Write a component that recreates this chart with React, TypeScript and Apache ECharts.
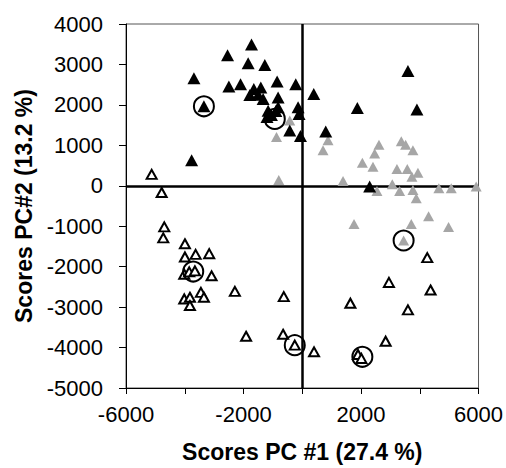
import React, { useEffect, useRef } from "react";
import * as echarts from "echarts";

const xTickLabels = ["-6000", "-2000", "2000", "6000"];

const blackPoints: number[][] = [
  [-1727, 3493], [-2543, 3230], [-1842, 3027], [-1275, 2985], [-3688, 2659],
  [-2498, 2455], [-2101, 2512], [-856, 2578], [-221, 2512], [391, 2267],
  [-1649, 2390], [-1411, 2430], [-1785, 2243], [-1500, 2250], [-1332, 2145],
  [-822, 2185], [-822, 1941], [-1162, 1858], [-1200, 1700], [-1050, 1750],
  [-900, 1850], [-142, 1941], [-109, 1777], [-425, 1368], [-61, 1230],
  [-3348, 1966], [-3766, 632], [3597, 2838], [1875, 1924], [3903, 1883],
  [799, 1343], [2294, -20],
];

const grayPoints: number[][] = [
  [877, 1123], [707, 877], [2611, 1017], [2464, 797], [2046, 569],
  [2407, 471], [3371, 1099], [3518, 1017], [3767, 877], [3223, 412],
  [3575, 412], [3937, 323], [3733, 225], [1388, 118], [3065, 37],
  [2543, -127], [3314, -127], [3767, -103], [3880, -306], [4650, -61],
  [5071, -61], [5920, -20], [-425, 1613], [-877, 1206], [-800, 140],
  [1762, -944], [3711, -944], [4300, -755], [4980, -1017], [3450, -1353],
];

const openPoints: number[][] = [
  [-5126, 282], [-4786, -167], [-4697, -1017], [-4731, -1287], [-3994, -1434],
  [-3994, -1760], [-3630, -1696], [-3168, -1679], [-4017, -2186], [-3848, -2128],
  [-3654, -2103], [-3086, -2226], [-4017, -2799], [-3824, -2757], [-3824, -2961],
  [-3450, -2635], [-3348, -2757], [-2294, -2610], [-1912, -3721], [-629, -2740],
  [1638, -2904], [2950, -2390], [4255, -1777], [4368, -2578], [3597, -3068],
  [-652, -3672], [-255, -3941], [401, -4105], [2838, -3843], [1897, -4171],
  [2012, -4269],
];

const ringPoints: number[][] = [
  [-3348, 1966], [-935, 1654], [3450, -1353], [-3712, -2120], [-255, -3941], [2046, -4228],
];

const FONT = "'Liberation Sans', Arial, sans-serif";

export default function App() {
  const ref = useRef<HTMLDivElement>(null);
  useEffect(() => {
    if (!ref.current) return;
    const chart = echarts.init(ref.current, null, { renderer: "svg" });
    chart.setOption({
      animation: false,
      backgroundColor: "#ffffff",
      grid: {
        left: 126, right: 27, top: 24, bottom: 76,
        show: true, borderColor: "#555", borderWidth: 1,
      },
      xAxis: {
        type: "value",
        min: -6000, max: 6000, interval: 2000,
        name: "Scores PC #1 (27.4 %)",
        nameLocation: "middle",
        nameGap: 52,
        nameTextStyle: { fontFamily: FONT, fontSize: 23, fontWeight: "bold", color: "#000" },
        axisLine: { onZero: false, lineStyle: { color: "#000", width: 1 } },
        axisTick: { show: true, inside: false, length: 6, lineStyle: { color: "#000" } },
        axisLabel: {
          margin: 15,
          fontFamily: FONT, fontSize: 22, color: "#000",
          formatter: (v: number) => (xTickLabels.includes(String(v)) ? String(v) : ""),
        },
        splitLine: { show: false },
      },
      yAxis: {
        type: "value",
        min: -5000, max: 4000, interval: 1000,
        name: "Scores PC#2 (13.2 %)",
        nameLocation: "middle",
        nameGap: 86,
        nameTextStyle: { fontFamily: FONT, fontSize: 23, fontWeight: "bold", color: "#000" },
        axisLine: { onZero: false, lineStyle: { color: "#000", width: 1 } },
        axisTick: { show: true, inside: false, length: 7, lineStyle: { color: "#000" } },
        axisLabel: {
          margin: 23, fontFamily: FONT, fontSize: 22, color: "#000",
          formatter: (v: number) => String(v),
        },
        splitLine: { show: false },
      },
      series: [
        {
          type: "scatter",
          data: grayPoints,
          symbol: "triangle",
          symbolSize: [11, 10],
          itemStyle: { color: "#a6a6a6", opacity: 1 },
          z: 2,
          markLine: {
            silent: true,
            symbol: "none",
            label: { show: false },
            lineStyle: { color: "#000", width: 2.5, type: "solid" },
            data: [{ xAxis: 0 }, { yAxis: 0 }],
            z: 1,
          },
        },
        {
          type: "scatter",
          data: blackPoints,
          symbol: "triangle",
          symbolSize: [13, 12],
          itemStyle: { color: "#000", opacity: 1 },
          z: 3,
        },
        {
          type: "scatter",
          data: openPoints,
          symbol: "triangle",
          symbolSize: [10, 9],
          itemStyle: { color: "#fff", borderColor: "#000", borderWidth: 2, opacity: 1 },
          z: 3,
        },
        {
          type: "scatter",
          data: ringPoints,
          symbol: "circle",
          symbolSize: 20,
          itemStyle: { color: "none", borderColor: "#000", borderWidth: 2, opacity: 1 },
          z: 4,
        },
      ],
    });
    return () => chart.dispose();
  }, []);
  return (
    <div
      ref={ref}
      style={{ position: "fixed", left: 0, top: 0, width: 506, height: 468 }}
    />
  );
}
